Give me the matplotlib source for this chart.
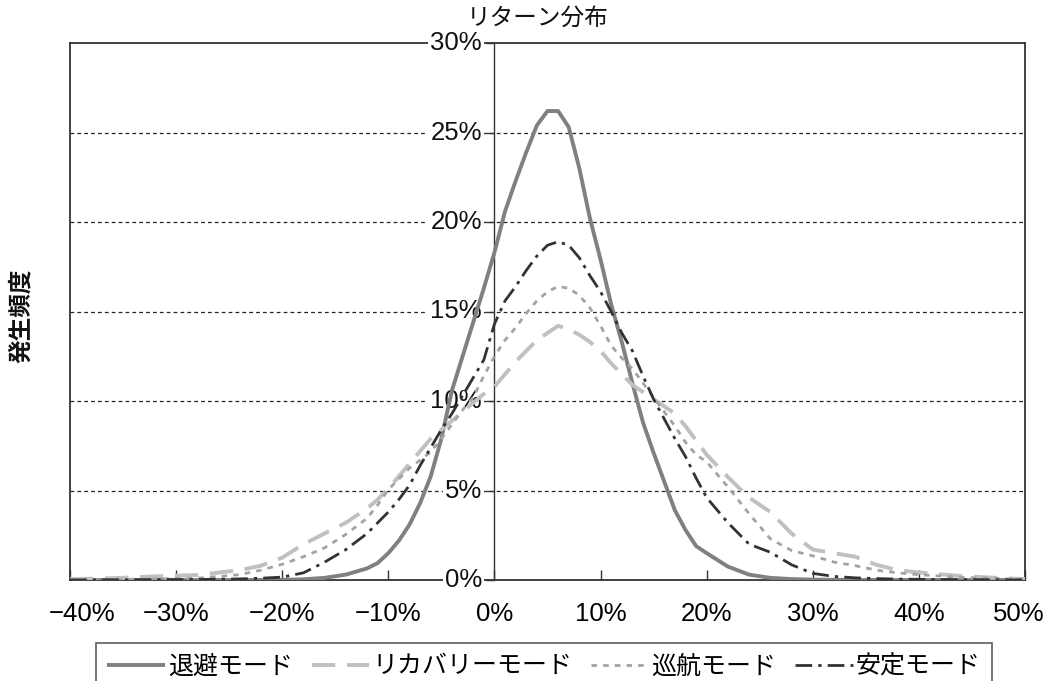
import matplotlib
matplotlib.use("Agg")
import matplotlib.pyplot as plt
from matplotlib.transforms import ScaledTranslation
from matplotlib.lines import Line2D

plt.rcParams["font.family"] = ["Liberation Sans", "Noto Sans CJK JP", "DejaVu Sans"]

# Return buckets (%) and frequency of each mode (%)
returns = [-40, -36, -32, -28, -24, -22, -20, -18, -16, -14, -12,
           -11, -10, -9, -8, -7, -6, -5, -4, -3, -2, -1, 0, 1, 2, 3, 4, 5, 6, 7, 8, 9,
           10, 11, 12, 13, 14, 15, 16, 17, 18, 19, 20,
           22, 24, 26, 28, 30, 32, 34, 36, 38, 40,
           44, 48, 50]

taihi = [0, 0, 0, 0, 0, 0, 0.01, 0.04, 0.12, 0.3, 0.65,
         0.95, 1.5, 2.2, 3.1, 4.3, 5.8, 7.9, 10.6, 12.5, 14.4, 16.3, 18.3, 20.6, 22.3, 23.9, 25.4, 26.2, 26.2, 25.3, 23.0, 20.2,
         17.9, 15.4, 13.3, 11.0, 8.8, 7.1, 5.5, 3.9, 2.8, 1.9, 1.5,
         0.75, 0.3, 0.12, 0.05, 0.02, 0.01, 0, 0, 0, 0,
         0, 0, 0]

recovery = [0.05, 0.1, 0.2, 0.28, 0.55, 0.8, 1.25, 2.0, 2.6, 3.2, 4.0,
            4.5, 5.1, 5.8, 6.5, 7.2, 7.9, 8.4, 8.9, 9.4, 9.9, 10.4, 10.8, 11.5, 12.2, 12.8, 13.4, 13.8, 14.2, 14.0, 13.7, 13.3,
            12.8, 12.1, 11.5, 10.9, 10.5, 10.1, 9.7, 9.3, 8.6, 7.8, 7.0,
            5.75, 4.6, 3.8, 2.6, 1.7, 1.5, 1.3, 0.85, 0.55, 0.42,
            0.22, 0.1, 0.05]

cruise = [0, 0.03, 0.06, 0.1, 0.3, 0.55, 0.88, 1.3, 1.8, 2.55, 3.45,
          4.2, 5.05, 5.65, 6.25, 6.7, 7.15, 7.9, 8.7, 9.5, 10.2, 11.4, 12.5, 13.4, 14.1, 14.9, 15.6, 16.1, 16.4, 16.3, 15.9, 15.2,
          14.2, 13.1, 12.4, 11.8, 11.0, 10.2, 9.4, 8.6, 7.7, 7.0, 6.6,
          5.2, 3.7, 2.3, 1.65, 1.35, 1.0, 0.8, 0.55, 0.4, 0.3,
          0.15, 0.07, 0.05]

stable = [0, 0.01, 0.02, 0.03, 0.06, 0.1, 0.16, 0.4, 1.0, 1.7, 2.6,
          3.2, 3.8, 4.5, 5.3, 6.4, 7.4, 8.4, 9.3, 10.3, 11.3, 12.3, 14.3, 15.6, 16.4, 17.3, 18.1, 18.7, 18.9, 18.7, 18.0, 17.0,
          16.1, 15.0, 13.8, 12.8, 11.4, 10.1, 9.0, 7.9, 6.9, 5.7, 4.6,
          3.2, 2.0, 1.55, 0.85, 0.37, 0.2, 0.12, 0.08, 0.05, 0.04,
          0.02, 0.01, 0]

series_names = ["退避モード", "リカバリーモード", "巡航モード", "安定モード"]

x_ticks = [-40, -30, -20, -10, 0, 10, 20, 30, 40, 50]
x_tick_labels = ["−40%", "−30%", "−20%", "−10%", "0%", "10%", "20%", "30%", "40%", "50%"]
y_ticks = [0, 5, 10, 15, 20, 25, 30]
y_tick_labels = ["0%", "5%", "10%", "15%", "20%", "25%", "30%"]

W, H = 1056, 681
fig = plt.figure(figsize=(W / 100, H / 100), dpi=100)
ax = fig.add_axes([70 / W, 1 - 580 / H, (1025 - 70) / W, (580 - 43) / H])
ax.set_xlim(-40, 50)
ax.set_ylim(0, 30)

frame_col = "#333333"
styles = [
    dict(color="#808080", lw=2.8, linestyle="-"),
    dict(color="#c0c0c0", lw=2.8, linestyle=(0, (6, 3))),
    dict(color="#a3a3a3", lw=2.0, linestyle=(0, (2, 2.2))),
    dict(color="#333333", lw=2.0, linestyle=(0, (6, 2.2, 1.2, 2.2))),
]
data = [taihi, recovery, cruise, stable]
handles = []
for name, ys, st in zip(series_names, data, styles):
    (ln,) = ax.plot(returns, ys, label=name, zorder=4, solid_capstyle="butt",
                    dash_capstyle="butt", **st)
    handles.append(ln)

# dashed horizontal grid
for v in y_ticks[1:-1]:
    ax.axhline(v, color="#222222", lw=0.9, linestyle=(0, (3, 2.5)), zorder=1)

# frame: top/right/bottom spines plus a left edge line; left spine becomes the y axis at x=0
for s in ("top", "right", "bottom"):
    ax.spines[s].set_color(frame_col)
    ax.spines[s].set_linewidth(1.3)
ax.spines["left"].set_position(("data", 0))
ax.spines["left"].set_color(frame_col)
ax.spines["left"].set_linewidth(1.0)
ax.add_line(Line2D([0, 0], [0, 1], transform=ax.transAxes, color=frame_col,
                   lw=1.3, clip_on=False, zorder=2.5))

ax.set_xticks(x_ticks)
ax.set_xticklabels(x_tick_labels)
ax.tick_params(axis="x", direction="in", length=7, width=1.0, color=frame_col,
               labelsize=18.5, pad=16)
ax.set_yticks(y_ticks)
ax.tick_params(axis="y", direction="out", length=6, width=1.0, color=frame_col,
               labelleft=False)

labels = ax.get_xticklabels()
labels[0].set_transform(labels[0].get_transform() + ScaledTranslation(0.12, 0, fig.dpi_scale_trans))
labels[-1].set_transform(labels[-1].get_transform() + ScaledTranslation(-0.06, 0, fig.dpi_scale_trans))

for v, t in zip(y_ticks, y_tick_labels):
    ax.annotate(t, xy=(0, v), xytext=(-9, 0), textcoords="offset points",
                ha="right", va="center", fontsize=18.5, color="#111111",
                annotation_clip=False, zorder=3,
                bbox=dict(boxstyle="square,pad=0.08", fc="white", ec="none"))

fig.text(538 / W, 1 - 19 / H, "リターン分布", ha="center", va="center",
         fontsize=17, color="#111111")
fig.text(21 / W, 1 - 316 / H, "発生頻度", ha="center", va="center",
         rotation=90, fontsize=17, fontweight="bold", color="#111111")

leg = fig.legend(handles=handles, labels=series_names, ncol=4,
                 loc="upper left", bbox_to_anchor=(96 / W, 1 - 643 / H),
                 frameon=True, fancybox=False, fontsize=18,
                 handlelength=2.3, handletextpad=0.12, columnspacing=0.75,
                 borderpad=0.45, borderaxespad=0)
leg.get_frame().set_edgecolor(frame_col)
leg.get_frame().set_linewidth(1.2)

fig.savefig("out.png", dpi=100, facecolor="white")
